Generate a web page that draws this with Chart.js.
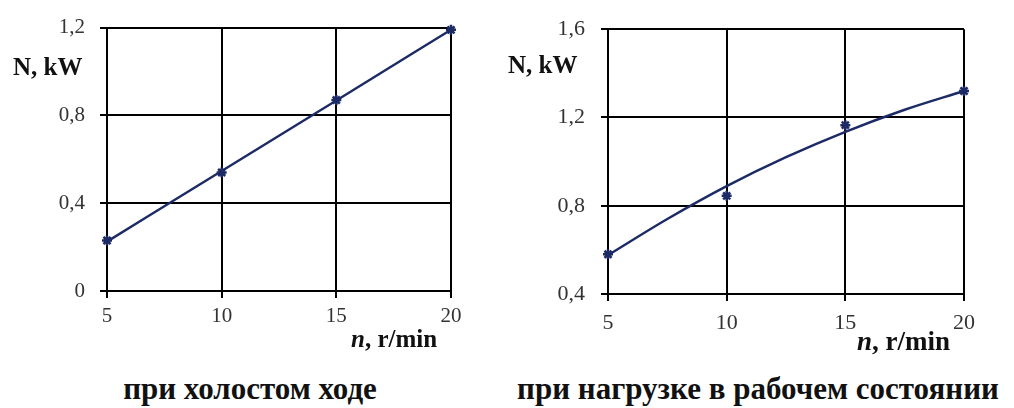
<!DOCTYPE html>
<html>
<head>
<meta charset="utf-8">
<script src="https://cdn.jsdelivr.net/npm/chart.js"></script>
<style>
    body { margin: 0; background: #fff; font-family: 'Liberation Serif', 'Times New Roman', serif; }
    .page { position: relative; width: 1014px; height: 408px; overflow: hidden; background: #fff; }
    canvas { position: absolute; top: 0; }
    .lbl { position: absolute; font-family: 'Liberation Serif', serif; font-weight: bold; color: #111; white-space: nowrap; line-height: 1; }
    .caption { position: absolute; font-family: 'Liberation Serif', serif; font-weight: bold; font-size: 31px; color: #111; white-space: nowrap; transform: translateX(-50%); line-height: 1; }
</style>
</head>
<body>
<div class="page">
    <canvas id="idleChart" width="480" height="340" style="left:0"></canvas>
    <canvas id="loadChart" width="524" height="340" style="left:490px"></canvas>

    <div class="lbl" style="left:13px; top:54px; font-size:25px;">N, kW</div>
    <div class="lbl" style="left:508px; top:52px; font-size:25px;">N, kW</div>
    <div class="lbl" style="left:351px; top:326px; font-size:25px;"><i>n</i>, r/min</div>
    <div class="lbl" style="left:857px; top:328px; font-size:27px;"><i>n</i>, r/min</div>

    <div class="caption" style="left:250px; top:373px;">при холостом ходе</div>
    <div class="caption" style="left:758px; top:373px;">при нагрузке в рабочем состоянии</div>
</div>

<script>
// --- DATA ---
const speedN = [5, 10, 15, 20];
const idleMeasured = [0.23, 0.54, 0.87, 1.19];
const idleTrend = [0.225, 0.547, 0.868, 1.19];
const loadMeasured = [0.58, 0.845, 1.165, 1.32];
const loadTrendN = [5, 7.5, 10, 12.5, 15, 17.5, 20];
const loadTrend = [0.576, 0.74, 0.889, 1.02, 1.135, 1.235, 1.32];
const idleTicksY = [0, 0.4, 0.8, 1.2];
const loadTicksY = [0.4, 0.8, 1.2, 1.6];

const navy = '#1c2a66';
const serif = "'Liberation Serif', 'Times New Roman', serif";
const pts = (xs, ys) => xs.map((x, i) => ({ x: x, y: ys[i] }));
const commaFmt = v => { const r = Math.round(v * 10) / 10; return r === 0 ? '0' : r.toFixed(1).replace('.', ','); };

function makeChart(id, measured, trendX, trend, yTicks, box) {
    const ctx = document.getElementById(id).getContext('2d');
    return new Chart(ctx, {
        type: 'scatter',
        data: {
            datasets: [
                {
                    data: pts(trendX, trend),
                    showLine: true,
                    borderColor: navy,
                    borderWidth: 2.4,
                    pointRadius: 0,
                    cubicInterpolationMode: 'monotone',
                    clip: false
                },
                {
                    data: pts(speedN, measured),
                    showLine: false,
                    pointStyle: 'star',
                    pointRadius: 5,
                    borderColor: navy,
                    backgroundColor: navy,
                    borderWidth: 2.5,
                    clip: false
                }
            ]
        },
        options: {
            responsive: false,
            animation: false,
            layout: { padding: { top: box.top, right: box.right, left: 0, bottom: 0 } },
            plugins: { legend: { display: false }, tooltip: { enabled: false } },
            scales: {
                x: {
                    type: 'linear',
                    min: speedN[0],
                    max: speedN[speedN.length - 1],
                    afterBuildTicks: s => { s.ticks = speedN.map(v => ({ value: v })); },
                    afterFit: s => { s.height = box.xh; },
                    ticks: { color: '#333', font: { family: serif, size: box.fs }, padding: box.xpad },
                    grid: { color: '#000', lineWidth: 2, tickLength: 7, tickColor: '#000' },
                    border: { color: '#000', width: 2 }
                },
                y: {
                    min: yTicks[0],
                    max: yTicks[yTicks.length - 1],
                    afterBuildTicks: s => { s.ticks = yTicks.map(v => ({ value: v })); },
                    afterFit: s => { s.width = box.yw; },
                    ticks: { color: '#333', font: { family: serif, size: box.fs }, padding: box.ypad, callback: commaFmt },
                    grid: { color: '#000', lineWidth: 2, tickLength: 7, tickColor: '#000' },
                    border: { color: '#000', width: 2 }
                }
            }
        }
    });
}

makeChart('idleChart', idleMeasured, speedN, idleTrend, idleTicksY,
    { top: 26, right: 29, xh: 49, yw: 107, xpad: 6, ypad: 15, fs: 21 });
makeChart('loadChart', loadMeasured, loadTrendN, loadTrend, loadTicksY,
    { top: 23, right: 50, xh: 46, yw: 118, xpad: 9, ypad: 16, fs: 22 });
</script>
</body>
</html>
